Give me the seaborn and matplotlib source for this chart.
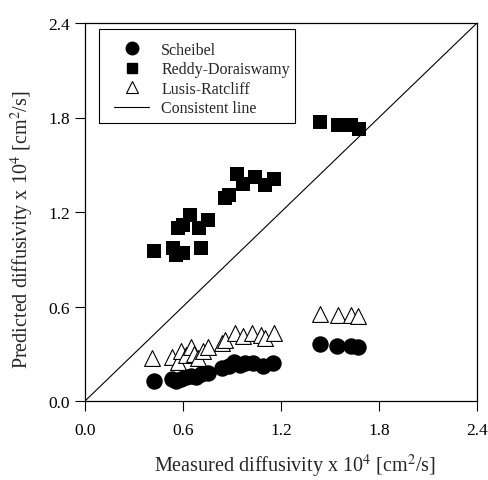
import matplotlib
matplotlib.use("Agg")
import matplotlib.pyplot as plt
from matplotlib.lines import Line2D
from matplotlib.patches import Rectangle
import seaborn as sns

# Measured vs predicted diffusivity (x 10^4 cm^2/s) for three correlations
scheibel_meas = [0.42, 0.53, 0.56, 0.59, 0.62, 0.65, 0.68, 0.71, 0.75, 0.84, 0.88,
                 0.91, 0.95, 0.98, 1.03, 1.09, 1.15, 1.44, 1.54, 1.63, 1.67]
scheibel_pred = [0.13, 0.14, 0.13, 0.14, 0.15, 0.16, 0.15, 0.17, 0.18, 0.21, 0.22,
                 0.25, 0.23, 0.24, 0.24, 0.22, 0.24, 0.36, 0.35, 0.35, 0.34]

reddy_meas = [0.42, 0.54, 0.56, 0.60, 0.71, 0.57, 0.60, 0.64, 0.70, 0.75, 0.86,
              0.88, 0.93, 0.97, 1.04, 1.10, 1.16, 1.44, 1.55, 1.63, 1.68]
reddy_pred = [0.95, 0.97, 0.93, 0.94, 0.97, 1.10, 1.12, 1.18, 1.10, 1.15, 1.29,
              1.31, 1.44, 1.38, 1.42, 1.37, 1.41, 1.77, 1.75, 1.75, 1.73]

lusis_meas = [0.41, 0.53, 0.57, 0.59, 0.62, 0.65, 0.67, 0.69, 0.72, 0.75, 0.84,
              0.86, 0.92, 0.97, 1.02, 1.08, 1.10, 1.16, 1.44, 1.55, 1.63, 1.67]
lusis_pred = [0.27, 0.28, 0.25, 0.32, 0.29, 0.34, 0.30, 0.27, 0.32, 0.34, 0.37,
              0.385, 0.43, 0.41, 0.43, 0.42, 0.40, 0.43, 0.555, 0.545, 0.545, 0.54]

ticks = [0.0, 0.6, 1.2, 1.8, 2.4]
tick_labels = ["0.0", "0.6", "1.2", "1.8", "2.4"]
series_names = ["Scheibel", "Reddy-Doraiswamy", "Lusis-Ratcliff", "Consistent line"]

sns.set_theme(style="ticks")
plt.rcParams["font.family"] = ["Liberation Serif", "DejaVu Serif"]
plt.rcParams["mathtext.fontset"] = "stix"

fig = plt.figure(figsize=(4.88, 4.81), dpi=100)
ax = fig.add_axes([85 / 488, 1 - 402 / 481, 392 / 488, 378 / 481])

ax.axline((0, 0), slope=1, color="black", lw=0.8, zorder=1)

sns.scatterplot(x=scheibel_meas, y=scheibel_pred, marker="o", s=140,
                color="black", edgecolor="black", linewidth=0, ax=ax, zorder=3)
sns.scatterplot(x=reddy_meas, y=reddy_pred, marker="s", s=110,
                color="black", edgecolor="black", linewidth=0, ax=ax, zorder=3)
sns.scatterplot(x=lusis_meas, y=lusis_pred, marker="^", s=130,
                color="white", edgecolor="black", linewidth=0.8, ax=ax, zorder=4)

ax.set_xlim(0, 2.4)
ax.set_ylim(0, 2.4)
ax.set_xticks(ticks)
ax.set_xticklabels(tick_labels)
ax.set_yticks(ticks)
ax.set_yticklabels(tick_labels)
ax.tick_params(axis="both", direction="out", length=7, width=0.8,
               labelsize=12.5, colors="black")
ax.tick_params(axis="x", pad=8)
ax.tick_params(axis="y", pad=4)
for sp in ax.spines.values():
    sp.set_color("black")
    sp.set_linewidth(0.9)

ax.set_xlabel(r"Measured diffusivity x 10$^4$ [cm$^2$/s]", fontsize=14.5)
ax.set_ylabel(r"Predicted diffusivity x 10$^4$ [cm$^2$/s]", fontsize=14.5)
ax.xaxis.set_label_coords(0.535, -0.135)
ax.yaxis.set_label_coords(-0.125, 0.455)

handles = [
    Line2D([], [], ls="none", marker="o", ms=9, mfc="black", mec="black"),
    Line2D([], [], ls="none", marker="s", ms=7.5, mfc="black", mec="black"),
    Line2D([], [], ls="none", marker="^", ms=8.5, mfc="white", mec="black", mew=0.8),
    Line2D([], [], color="black", lw=0.8),
]
leg = ax.legend(handles, series_names, loc="upper left", bbox_to_anchor=(0.074, 0.95),
                frameon=False, fontsize=11.5, borderpad=0, labelspacing=0.22,
                handlelength=2.2, handletextpad=0.75, borderaxespad=0)
ax.add_patch(Rectangle((0.036, 0.736), 0.50, 0.248, transform=ax.transAxes,
                       fill=False, edgecolor="black", lw=0.8, zorder=5))

fig.savefig("out.png", dpi=100)
